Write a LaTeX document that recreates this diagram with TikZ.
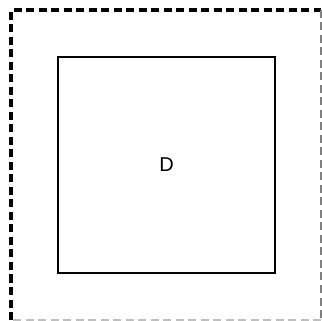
\documentclass[tikz,border=0pt]{standalone}
\usepackage{fontspec}
\setmainfont{Liberation Sans}
\usetikzlibrary{positioning}

\begin{document}
\begin{tikzpicture}[x=1pt, y=-1pt,
  region/.style = {rectangle, draw, line width=2.6pt,
                   minimum width=217pt, minimum height=216pt,
                   font=\fontsize{20}{23}\selectfont},
  outerdash/.style = {line width=3.2pt, dash pattern=on 8pt off 4.5pt},
  thindash/.style = {line width=1.2pt, dash pattern=on 8pt off 4.5pt},
]
  \useasboundingbox (0,0) rectangle (322,321);
  \node[region] (dom) at (166.5,165) {D};

  % outer frame corners
  \coordinate (tl) at (11,10);
  \coordinate (tr) at (321,10);
  \coordinate (br) at (321,320);
  \coordinate (bl) at (11,320);

  \draw[outerdash] (bl) -- (tl) -- (tr);
  \draw[thindash, gray] (tr) -- (br);
  \draw[thindash, gray!50] (br) -- (bl);
\end{tikzpicture}
\end{document}
